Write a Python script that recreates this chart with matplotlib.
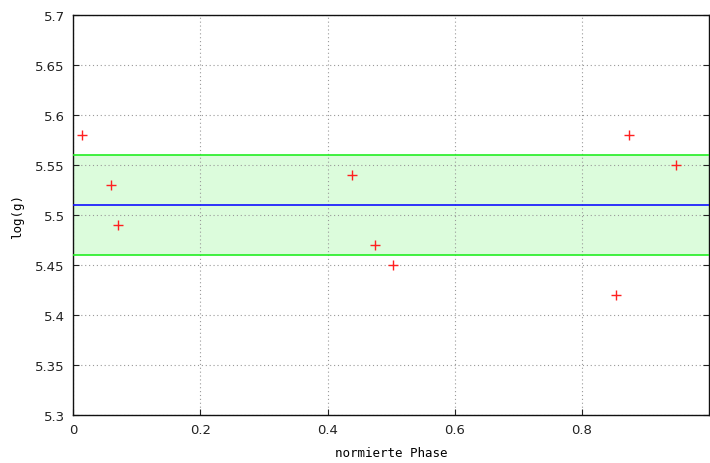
import matplotlib
matplotlib.use("Agg")
import matplotlib.pyplot as plt

phase = [0.014, 0.060, 0.071, 0.439, 0.475, 0.503, 0.854, 0.873, 0.948]
logg = [5.58, 5.53, 5.49, 5.54, 5.47, 5.45, 5.42, 5.58, 5.55]
mean_logg = 5.51
band_low = 5.46
band_high = 5.56
xticks = [0, 0.2, 0.4, 0.6, 0.8]
xticklabels = ["0", "0.2", "0.4", "0.6", "0.8"]
yticks = [5.3, 5.35, 5.4, 5.45, 5.5, 5.55, 5.6, 5.65, 5.7]
yticklabels = ["5.3", "5.35", "5.4", "5.45", "5.5", "5.55", "5.6", "5.65", "5.7"]

fig = plt.figure(figsize=(7.1, 4.64), dpi=100)
ax = fig.add_axes([0.1028, 0.1034, 0.8958, 0.8621])

xlim = (0, 0.9995)
ax.fill_between(xlim, [band_low] * 2, [band_high] * 2, color="#dcfcdc", zorder=1, linewidth=0)
ax.axhline(band_low, color="#22ee22", lw=1.2, zorder=3)
ax.axhline(band_high, color="#22ee22", lw=1.2, zorder=3)
ax.axhline(mean_logg, color="#1010ff", lw=1.2, zorder=3)
ax.plot(phase, logg, linestyle="none", marker="+", color="#ff2020", markersize=7, mew=1.0, zorder=4)

ax.set_xlim(*xlim)
ax.set_ylim(5.3, 5.7)
ax.set_xticks(xticks)
ax.set_xticklabels(xticklabels)
ax.set_yticks(yticks)
ax.set_yticklabels(yticklabels)
ax.grid(True, linestyle=(0, (1, 2.5)), color="#999999", lw=0.8)
ax.tick_params(direction="in", length=4, right=True, top=False, labelsize=9.5, colors="#222222", pad=6)
for s in ax.spines.values():
    s.set_color("#111111")
    s.set_linewidth(1.0)

ax.set_xlabel("normierte Phase", family="DejaVu Sans Mono", fontsize=9, labelpad=7)
ax.set_ylabel("log(g)", family="DejaVu Sans Mono", fontsize=9, labelpad=8)

fig.savefig("out.png", dpi=100)
